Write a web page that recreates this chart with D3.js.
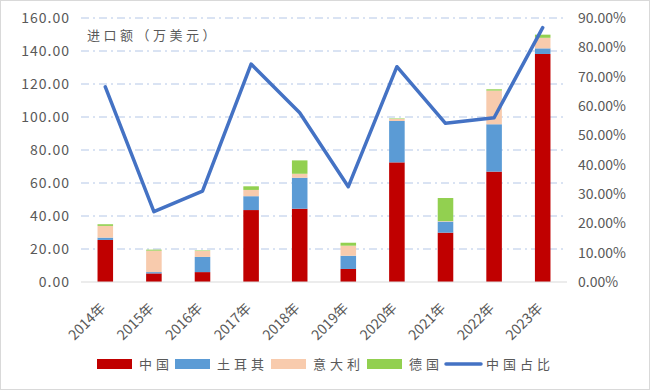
<!DOCTYPE html>
<html>
<head>
<meta charset="utf-8">
<script src="https://cdn.jsdelivr.net/npm/d3@7"></script>
<style>
  body { margin: 0; background: #fff; }
  svg text { font-family: "Noto Sans CJK SC", "DejaVu Sans", sans-serif; fill: #595959; }
</style>
</head>
<body>
<svg id="chart" width="651" height="391"></svg>
<script>
// Chart data
const years = ['2014年', '2015年', '2016年', '2017年', '2018年', '2019年', '2020年', '2021年', '2022年', '2023年'];
const china = [25.5, 5.2, 6.0, 43.6, 44.4, 7.9, 72.5, 29.9, 66.9, 138.2];
const turkey = [1.4, 0.8, 9.2, 8.4, 18.8, 8.0, 25.1, 6.7, 28.7, 3.4];
const italy = [7.1, 13.0, 3.6, 3.8, 2.4, 6.1, 1.2, 0.3, 20.4, 6.4];
const germany = [1.0, 0.6, 0.3, 2.2, 8.1, 1.8, 0.3, 14.0, 0.8, 1.9];
const chinaShare = [66.5, 24.0, 31.0, 74.3, 57.7, 32.5, 73.4, 54.1, 56.0, 86.7];

const leftTicks = [0, 20, 40, 60, 80, 100, 120, 140, 160];
const rightTicks = [0, 10, 20, 30, 40, 50, 60, 70, 80, 90];

const seriesNames = ['中国', '土耳其', '意大利', '德国'];
const seriesColors = ['#C00000', '#5B9BD5', '#F8CBAD', '#92D050'];
const lineName = '中国占比';
const lineColor = '#4472C4';

const svg = d3.select('#chart');
const margin = { left: 81, right: 84, top: 18, bottom: 109 };
const width = 651 - margin.left - margin.right;
const height = 391 - margin.top - margin.bottom;

// Outer border
svg.append('rect')
    .attr('x', 0.5).attr('y', 0.5)
    .attr('width', 649).attr('height', 389)
    .attr('fill', 'none')
    .attr('stroke', '#D9D9D9');

const g = svg.append('g').attr('transform', `translate(${margin.left},${margin.top})`);

const x = d3.scaleBand().domain(years).range([0, width]).paddingInner(0.68).paddingOuter(0.34);
const yLeft = d3.scaleLinear().domain([0, 160]).range([height, 0]);
const yRight = d3.scaleLinear().domain([0, 90]).range([height, 0]);

// Gridlines (dash-dot)
g.append('g')
    .selectAll('line')
    .data(leftTicks.filter(d => d > 0))
    .join('line')
    .attr('x1', 0).attr('x2', width)
    .attr('y1', d => yLeft(d)).attr('y2', d => yLeft(d))
    .attr('stroke', '#B4C7E7')
    .attr('stroke-width', 1)
    .attr('stroke-dasharray', '8,4,2,4');

// Stacked bars
const table = years.map((yr, i) => ({ year: yr, s0: china[i], s1: turkey[i], s2: italy[i], s3: germany[i] }));
const stack = d3.stack().keys(['s0', 's1', 's2', 's3'])(table);

g.append('g')
    .selectAll('g')
    .data(stack)
    .join('g')
    .attr('fill', (d, i) => seriesColors[i])
    .selectAll('rect')
    .data(d => d)
    .join('rect')
    .attr('x', d => x(d.data.year))
    .attr('width', x.bandwidth())
    .attr('y', d => yLeft(d[1]))
    .attr('height', d => yLeft(d[0]) - yLeft(d[1]));

// Baseline
g.append('line')
    .attr('x1', 0).attr('x2', width)
    .attr('y1', height).attr('y2', height)
    .attr('stroke', '#D9D9D9')
    .attr('stroke-width', 1);

// Share line
const line = d3.line()
    .x((d, i) => x(years[i]) + x.bandwidth() / 2)
    .y(d => yRight(d));

g.append('path')
    .datum(chinaShare)
    .attr('d', line)
    .attr('fill', 'none')
    .attr('stroke', lineColor)
    .attr('stroke-width', 3.5)
    .attr('stroke-linejoin', 'round')
    .attr('stroke-linecap', 'round');

// Left axis
const leftAxis = g.append('g')
    .call(d3.axisLeft(yLeft).tickValues(leftTicks).tickSize(0).tickPadding(11).tickFormat(d => d3.format('.2f')(d)));
leftAxis.select('.domain').remove();
leftAxis.selectAll('text').attr('font-size', 14).attr('letter-spacing', 1);

// Right axis
const rightAxis = g.append('g')
    .attr('transform', `translate(${width},0)`)
    .call(d3.axisRight(yRight).tickValues(rightTicks).tickSize(0).tickPadding(11).tickFormat(d => d3.format('.2f')(d) + '%'));
rightAxis.select('.domain').remove();
rightAxis.selectAll('text').attr('font-size', 14);

// X axis labels, rotated
const xAxis = g.append('g')
    .attr('transform', `translate(0,${height})`)
    .call(d3.axisBottom(x).tickSize(0).tickPadding(0));
xAxis.select('.domain').remove();
xAxis.selectAll('text')
    .attr('font-size', 14)
    .attr('text-anchor', 'end')
    .attr('dy', 0)
    .attr('transform', 'translate(1,27) rotate(-45)');

// Axis title
svg.append('text')
    .attr('x', 87).attr('y', 40)
    .attr('font-size', 13)
    .attr('letter-spacing', 3.5)
    .text('进口额（万美元）');

// Legend
const legendItems = [
    { name: seriesNames[0], color: seriesColors[0], x: 97, type: 'rect' },
    { name: seriesNames[1], color: seriesColors[1], x: 175, type: 'rect' },
    { name: seriesNames[2], color: seriesColors[2], x: 271, type: 'rect' },
    { name: seriesNames[3], color: seriesColors[3], x: 367, type: 'rect' },
    { name: lineName, color: lineColor, x: 444, type: 'line' }
];
const legend = svg.append('g').attr('transform', 'translate(0,364)');
legendItems.forEach(item => {
    if (item.type === 'rect') {
        legend.append('rect')
            .attr('x', item.x).attr('y', -5)
            .attr('width', 35).attr('height', 10)
            .attr('fill', item.color);
    } else {
        legend.append('line')
            .attr('x1', item.x + 2).attr('x2', item.x + 37)
            .attr('y1', 0).attr('y2', 0)
            .attr('stroke', item.color)
            .attr('stroke-width', 3.5)
            .attr('stroke-linecap', 'round');
    }
    legend.append('text')
        .attr('x', item.x + 42).attr('y', 5)
        .attr('font-size', 13)
        .attr('letter-spacing', 4)
        .text(item.name);
});
</script>
</body>
</html>
